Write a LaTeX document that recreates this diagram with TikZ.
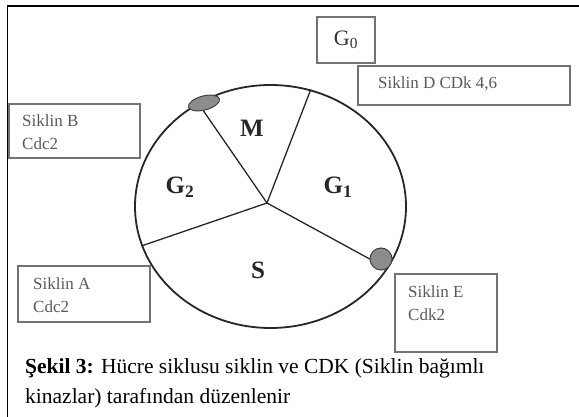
\documentclass[tikz,border=0pt]{standalone}
\usepackage{fontspec}
\setmainfont{Liberation Serif}
\usetikzlibrary{shapes.geometric}

\begin{document}
\begin{tikzpicture}[x=1pt, y=1pt,
    cbox/.style={draw=black!55, line width=1.4pt, inner sep=0pt},
    ctext/.style={text=black!65, font=\fontsize{17}{23}\selectfont, align=left, anchor=north west, inner sep=0pt},
    phase/.style={font=\fontsize{25}{25}\selectfont\bfseries, text=black!85},
    blob/.style={draw=black!75, fill=black!45, line width=1pt, inner sep=0pt}]
    \useasboundingbox (0,0) rectangle (579,417);

    % Frame
    \coordinate (fbot) at (7.5,0);
    \coordinate (ftl) at (7.5,411);
    \coordinate (ftr) at (579,411);
    \draw[line width=1.3pt] (fbot) -- (ftl) -- (ftr);

    % Cell cycle
    \node[draw=black!85, line width=1.8pt, ellipse, minimum width=271pt, minimum height=243pt, inner sep=0pt] (cyc) at (270.5,210.5) {};
    \coordinate (hub) at (267,214);
    \draw[line width=1.3pt, black!85] (hub) -- (cyc.125.3);
    \draw[line width=1.3pt, black!85] (hub) -- (cyc.71.9);
    \draw[line width=1.3pt, black!85] (hub) -- (cyc.197.7);
    \draw[line width=1.3pt, black!85] (hub) -- (cyc.332.5);

    % Phases
    \node[phase] (M) at (252,289) {M};
    \node[phase] (G2) at (180,230) {G\textsubscript{2}};
    \node[phase] (G1) at (338,230) {G\textsubscript{1}};
    \node[phase] (S) at (258,147) {S};

    % Cyclin spots
    \node[blob, ellipse, minimum width=32pt, minimum height=14pt, rotate=15] (spotB) at (204,314) {};
    \node[blob, circle, minimum size=22pt] (spotE) at (381,158) {};

    % G0 and cyclin D
    \node[cbox, minimum width=212pt, minimum height=39pt] (boxD) at (464,331.5) {};
    \node[ctext] (txtD) at (378,340) {Siklin D CDk 4,6};
    \node[cbox, minimum width=58pt, minimum height=46pt, font=\fontsize{22}{22}\selectfont, text=black!80] (G0) at (346,377) {G\textsubscript{0}};

    % Cyclin B
    \node[cbox, minimum width=131pt, minimum height=54pt] (boxB) at (74.5,286) {};
    \node[ctext] (txtB) at (22,302) {Siklin B\\Cdc2};

    % Cyclin A
    \node[cbox, minimum width=132pt, minimum height=56pt] (boxA) at (84,123) {};
    \node[ctext] (txtA) at (33,139) {Siklin A\\Cdc2};

    % Cyclin E
    \node[cbox, minimum width=102pt, minimum height=78pt] (boxE) at (446,104) {};
    \node[ctext] (txtE) at (408,131) {Siklin E\\Cdk2};

    % Caption
    \node[anchor=north west, inner sep=0pt, align=left, font=\fontsize{21.5}{30}\selectfont] (cap) at (25,59) {\textbf{Şekil 3:} Hücre siklusu siklin ve CDK (Siklin bağımlı\\kinazlar) tarafından düzenlenir};
\end{tikzpicture}
\end{document}
